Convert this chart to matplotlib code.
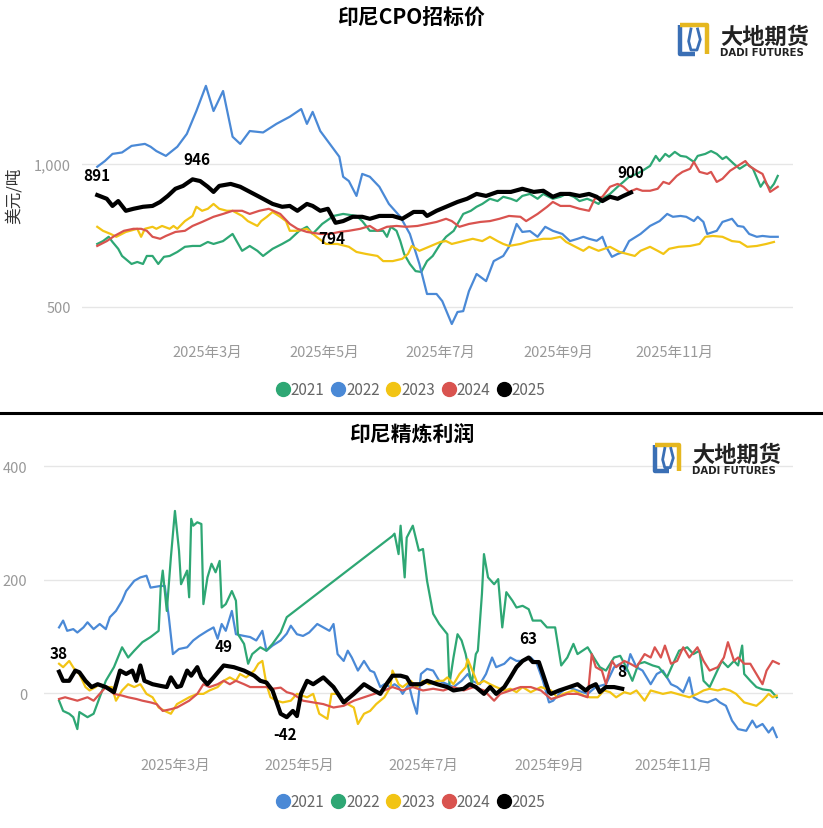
import matplotlib
matplotlib.use('Agg')
import matplotlib.pyplot as plt
from matplotlib.lines import Line2D

plt.rcParams['font.family'] = ['Noto Sans CJK SC', 'DejaVu Sans']

# ---- data: (day of year, value) ----
years = ['2021', '2022', '2023', '2024', '2025']
month_days = [60, 121, 182, 244, 305]
month_labels = ['2025年3月', '2025年5月', '2025年7月', '2025年9月', '2025年11月']

# 印尼CPO招标价 (美元/吨)
cpo_2021 = [(2, 720), (5, 730), (8, 745), (10, 727), (13, 703), (15, 678), (20, 650), (23, 657), (26, 650), (28, 678),
            (31, 678), (34, 650), (37, 675), (40, 678), (44, 692), (48, 710), (52, 713), (56, 713), (60, 727), (63, 720),
            (68, 730), (73, 755), (78, 696), (82, 713), (86, 696), (89, 678), (94, 703), (99, 720), (103, 735), (108, 766),
            (112, 780), (115, 755), (120, 790), (126, 818), (131, 825), (138, 818), (141, 800), (145, 766), (149, 766),
            (152, 766), (154, 745), (156, 780), (159, 766), (161, 730), (163, 685), (166, 650), (169, 625), (172, 622),
            (175, 660), (178, 678), (182, 720), (185, 745), (189, 766), (191, 790), (194, 825), (198, 836), (201, 850),
            (204, 860), (208, 878), (212, 870), (215, 885), (219, 878), (222, 870), (225, 888), (229, 895), (233, 878),
            (236, 895), (238, 888), (241, 878), (245, 885), (248, 895), (252, 885), (255, 870), (259, 878), (262, 870),
            (265, 860), (267, 878), (271, 895), (275, 920), (278, 937), (281, 955), (285, 965), (288, 976), (292, 993),
            (295, 1028), (297, 1010), (300, 1035), (302, 1025), (305, 1042), (308, 1028), (311, 1025), (315, 1007),
            (317, 1028), (321, 1035), (324, 1045), (327, 1035), (330, 1017), (332, 1025), (336, 1000), (339, 983),
            (343, 1000), (346, 983), (350, 920), (352, 940), (355, 913), (357, 930), (359, 958)]
cpo_2022 = [(2, 990), (6, 1010), (10, 1035), (15, 1040), (20, 1063), (27, 1070), (30, 1060), (33, 1045), (38, 1028),
            (44, 1060), (49, 1105), (54, 1185), (59, 1273), (63, 1185), (68, 1255), (73, 1095), (77, 1070), (82, 1115),
            (89, 1110), (96, 1140), (103, 1165), (109, 1192), (112, 1140), (115, 1182), (119, 1115), (124, 1070),
            (129, 1025), (131, 955), (134, 940), (138, 888), (141, 965), (145, 955), (150, 920), (155, 860), (161, 815),
            (166, 755), (171, 650), (175, 545), (180, 545), (183, 520), (188, 440), (191, 482), (194, 485), (197, 555),
            (201, 615), (206, 590), (210, 660), (215, 678), (218, 710), (222, 790), (225, 762), (229, 765), (233, 745),
            (237, 780), (241, 766), (246, 755), (250, 730), (254, 738), (257, 745), (260, 738), (264, 731), (267, 745),
            (269, 710), (272, 675), (275, 685), (278, 692), (281, 730), (287, 755), (292, 783), (297, 800), (301, 825),
            (304, 815), (308, 818), (311, 815), (315, 800), (317, 815), (320, 797), (322, 755), (327, 766), (330, 797),
            (335, 808), (338, 783), (341, 780), (344, 755), (348, 745), (351, 748), (355, 745), (359, 745)]
cpo_2023 = [(2, 780), (5, 766), (9, 755), (12, 745), (17, 762), (23, 773), (25, 745), (27, 773), (31, 780), (33, 773),
            (36, 783), (40, 773), (42, 783), (44, 773), (48, 800), (52, 818), (54, 850), (57, 836), (60, 843), (63, 860),
            (66, 843), (70, 836), (73, 836), (78, 818), (81, 800), (86, 783), (88, 800), (91, 815), (94, 832), (98, 815),
            (101, 800), (103, 766), (107, 766), (112, 773), (117, 745), (122, 720), (128, 720), (134, 710), (138, 692),
            (143, 685), (149, 678), (152, 660), (157, 660), (162, 668), (165, 685), (167, 713), (171, 696), (176, 710),
            (182, 727), (185, 730), (188, 720), (194, 730), (199, 738), (204, 730), (208, 745), (212, 730), (215, 720),
            (218, 713), (224, 720), (229, 730), (236, 738), (240, 738), (245, 745), (248, 727), (252, 713), (257, 696),
            (260, 710), (265, 696), (271, 710), (276, 692), (280, 685), (284, 678), (287, 696), (292, 710), (296, 696),
            (299, 685), (302, 703), (307, 710), (313, 713), (318, 720), (321, 745), (325, 748), (330, 745), (335, 730),
            (339, 727), (343, 710), (348, 713), (353, 720), (357, 727)]
cpo_2024 = [(2, 713), (7, 730), (11, 748), (16, 766), (21, 773), (25, 773), (28, 766), (31, 745), (35, 738), (38, 748),
            (43, 762), (48, 766), (52, 783), (57, 797), (63, 815), (68, 825), (73, 836), (78, 836), (82, 825), (87, 836),
            (92, 843), (98, 825), (103, 790), (107, 773), (112, 762), (116, 758), (119, 755), (124, 755), (129, 762),
            (134, 766), (140, 773), (145, 783), (149, 766), (154, 780), (159, 783), (164, 780), (170, 783), (175, 790),
            (180, 797), (185, 808), (188, 800), (192, 780), (197, 790), (203, 797), (208, 800), (213, 808), (218, 818),
            (224, 815), (227, 800), (233, 825), (238, 850), (241, 867), (245, 853), (250, 853), (255, 843), (260, 836),
            (263, 878), (267, 885), (271, 920), (275, 930), (278, 920), (281, 902), (285, 913), (288, 906), (292, 906),
            (296, 913), (299, 937), (302, 930), (306, 958), (309, 972), (313, 983), (315, 1007), (318, 972), (322, 965),
            (324, 972), (327, 937), (330, 948), (334, 976), (338, 993), (342, 1010), (344, 993), (348, 976), (351, 965),
            (355, 902), (359, 920)]
cpo_2025 = [(2, 891), (7, 878), (10, 853), (13, 870), (17, 836), (21, 843), (26, 850), (31, 853), (35, 867), (39, 888),
            (43, 913), (47, 923), (52, 946), (56, 940), (60, 920), (63, 902), (66, 923), (72, 930), (77, 920), (81, 906),
            (87, 885), (94, 860), (99, 850), (103, 853), (107, 836), (112, 860), (115, 853), (119, 836), (123, 843),
            (127, 794), (131, 800), (136, 815), (141, 815), (145, 808), (150, 818), (157, 818), (162, 808), (168, 832),
            (173, 832), (175, 818), (180, 836), (185, 850), (191, 867), (196, 878), (201, 895), (206, 888), (212, 902),
            (219, 902), (225, 913), (231, 902), (236, 906), (241, 885), (245, 895), (250, 895), (255, 888), (260, 895),
            (264, 885), (267, 870), (271, 885), (275, 878), (278, 888), (282, 900)]

# 印尼精炼利润
ref_2021 = [(3, 116), (5, 128), (7, 110), (10, 113), (12, 107), (15, 116), (17, 125), (20, 113), (23, 122), (26, 113),
            (28, 134), (31, 145), (34, 163), (36, 180), (40, 198), (43, 204), (46, 207), (48, 186), (53, 189), (55, 189),
            (57, 134), (59, 69), (62, 78), (66, 81), (69, 93), (72, 101), (76, 110), (79, 116), (81, 96), (83, 122),
            (85, 110), (88, 145), (90, 104), (94, 101), (97, 99), (100, 93), (103, 110), (105, 75), (108, 84), (112, 93),
            (115, 105), (117, 119), (120, 104), (123, 101), (126, 107), (130, 122), (133, 116), (136, 110), (138, 122),
            (140, 69), (143, 57), (145, 75), (147, 63), (150, 40), (153, 57), (156, 40), (158, 37), (161, 11), (163, 16),
            (166, 11), (168, 16), (170, 11), (172, -1), (175, 16), (177, -13), (179, -36), (181, 34), (184, 43),
            (187, 40), (190, 22), (194, 16), (197, 11), (201, 22), (204, 34), (206, 22), (210, 16), (213, 34), (216, 63),
            (218, 46), (222, 52), (225, 63), (228, 57), (231, 57), (235, 63), (238, 52), (241, 22), (244, -16),
            (246, -13), (249, -1), (253, 11), (258, 5), (263, -1), (267, 11), (272, 16), (276, 46), (279, 52), (282, 40),
            (284, 69), (287, 46), (290, 40), (294, 16), (297, 34), (300, 40), (304, 16), (307, 11), (310, 2), (313, 28),
            (315, -7), (318, -13), (322, -16), (326, -10), (328, -16), (331, -22), (334, -48), (337, -63), (341, -66),
            (344, -48), (346, -60), (349, -54), (352, -69), (354, -60), (356, -77)]
ref_2022 = [(3, -13), (5, -31), (8, -36), (10, -42), (12, -63), (13, -33), (17, -42), (20, -36), (23, -7), (26, 22),
            (30, 46), (34, 81), (37, 63), (40, 75), (44, 90), (48, 99), (52, 110), (53, 186), (54, 216), (56, 145),
            (58, 239), (60, 321), (62, 251), (63, 192), (66, 216), (67, 169), (68, 307), (69, 295), (71, 301), (73, 298),
            (74, 157), (76, 204), (78, 228), (80, 213), (82, 233), (83, 151), (85, 157), (88, 180), (90, 163), (91, 104),
            (94, 87), (96, 52), (98, 69), (102, 81), (105, 75), (108, 87), (112, 107), (115, 134), (167, 277), (168, 281),
            (170, 245), (171, 295), (173, 204), (174, 274), (177, 295), (180, 251), (182, 254), (184, 198), (187, 140),
            (190, 122), (194, 104), (195, 16), (197, 63), (199, 104), (201, 93), (203, 69), (206, 16), (208, 69),
            (209, 75), (211, 175), (212, 245), (214, 204), (217, 192), (219, 201), (221, 116), (223, 178), (226, 163),
            (228, 151), (231, 154), (234, 148), (236, 128), (240, 128), (243, 116), (247, 116), (250, 49), (253, 63),
            (256, 87), (258, 69), (263, 81), (266, 63), (269, 46), (272, 40), (276, 63), (279, 66), (282, 46), (285, 22),
            (288, 52), (291, 55), (295, 49), (298, 46), (302, 28), (305, 52), (308, 75), (312, 81), (315, 69), (318, 75),
            (320, 22), (323, 11), (326, 34), (329, 57), (332, 46), (335, 57), (337, 49), (339, 84), (340, 34), (343, 22),
            (346, 11), (349, 7), (353, 5), (356, -7)]
ref_2023 = [(3, 52), (5, 46), (8, 57), (11, 40), (13, 34), (16, 11), (18, 5), (21, 11), (23, 16), (26, 11), (29, 11),
            (31, -13), (34, 5), (37, 16), (40, 11), (43, 16), (46, -1), (49, -7), (52, -25), (55, -31), (58, -36),
            (61, -19), (64, -13), (67, -7), (71, -1), (74, -1), (77, 5), (81, 11), (84, 22), (87, 28), (90, 22), (92, 34),
            (95, 28), (99, 40), (101, 52), (103, 57), (105, 16), (107, -7), (110, -13), (113, -16), (117, -13), (120, -1),
            (125, -7), (128, -1), (131, -36), (135, -45), (137, -1), (140, -1), (142, -13), (145, -19), (148, -25),
            (150, -54), (153, -36), (156, -31), (159, -19), (163, -7), (166, 11), (167, 40), (170, 16), (172, 11),
            (176, 22), (179, 11), (182, 22), (185, 16), (189, 22), (192, 22), (194, 28), (197, 16), (200, 34), (203, 46),
            (204, 60), (207, 34), (209, 16), (212, 22), (215, 16), (218, 11), (222, 5), (225, 8), (228, 2), (231, 11),
            (235, 2), (240, 11), (245, 5), (248, -7), (251, -1), (256, 5), (261, -4), (264, -7), (268, -7), (271, 5),
            (274, 2), (277, -7), (281, 2), (284, -1), (287, 5), (291, -13), (294, 5), (297, 2), (300, -1), (304, 2),
            (307, -1), (310, -4), (313, -7), (317, -1), (320, 5), (323, 8), (327, 5), (330, 8), (333, 5), (336, -1),
            (340, -16), (343, -19), (346, -22), (349, -13), (352, -1), (354, -7), (356, -4)]
ref_2024 = [(3, -10), (6, -7), (9, -10), (12, -13), (17, -7), (20, -13), (23, -1), (26, 11), (30, -1), (34, -4),
            (37, -7), (41, -10), (44, -13), (48, -16), (51, -19), (54, -31), (58, -28), (61, -25), (64, -19), (67, -13),
            (71, -1), (74, 16), (77, 11), (81, 16), (84, 22), (87, 16), (90, 22), (94, 16), (97, 11), (102, 11),
            (105, 11), (108, 8), (112, 10), (115, 2), (118, -1), (123, -13), (128, -16), (133, -19), (138, -25),
            (143, -22), (148, -13), (153, -7), (158, -1), (163, 5), (167, 11), (172, 5), (177, 11), (182, 5), (187, 8),
            (192, 5), (197, 11), (202, 5), (207, 11), (212, 5), (217, -13), (220, -1), (225, 5), (230, 11), (235, 11),
            (240, 5), (245, -10), (248, -7), (253, -1), (258, -1), (263, -7), (265, 69), (267, 46), (270, 40), (272, 16),
            (275, 57), (277, 46), (281, 57), (284, 52), (287, 46), (291, 69), (294, 63), (296, 81), (299, 63), (301, 84),
            (304, 52), (307, 57), (310, 81), (313, 63), (317, 81), (320, 57), (323, 40), (327, 46), (330, 63), (332, 90),
            (335, 57), (337, 63), (340, 52), (343, 52), (346, 34), (349, 16), (351, 40), (354, 57), (357, 52)]
ref_2025 = [(3, 38), (5, 22), (8, 22), (11, 40), (13, 37), (16, 22), (19, 11), (22, 16), (26, 11), (30, 2), (33, 40),
            (36, 34), (39, 40), (41, 22), (43, 49), (45, 22), (49, 16), (53, 13), (56, 11), (58, 28), (61, 11), (63, 13),
            (66, 40), (68, 31), (71, 46), (73, 28), (76, 16), (79, 28), (84, 49), (89, 46), (94, 40), (99, 31), (102, 22),
            (105, 19), (108, 5), (112, -36), (115, -42), (118, -31), (120, -40), (122, -1), (125, 22), (128, 16),
            (133, 28), (138, 11), (143, -16), (148, -1), (153, 16), (158, 5), (161, -1), (164, 16), (167, 31), (171, 31),
            (174, 28), (176, 16), (181, 16), (184, 22), (189, 16), (194, 11), (197, 5), (202, 8), (205, 16), (208, 11),
            (212, -1), (215, 11), (218, -1), (222, 11), (225, 28), (228, 46), (231, 57), (234, 63), (236, 55), (239, 55),
            (241, 34), (244, 2), (245, -1), (249, 5), (254, 11), (258, 16), (262, 5), (264, 11), (267, 16), (269, 2),
            (272, 11), (276, 11), (280, 8)]

GREEN, BLUE, YELLOW, RED, BLACK = '#2ea774', '#4a89d6', '#f2c414', '#d9534f', '#000000'
W, H = 823, 829


def px_box(l, t, r, b):
    return [l / W, 1 - b / H, (r - l) / W, (b - t) / H]


def draw_panel(ax, series, colors, ylim, yticks, yticklabels, xlim, ypad):
    for data, c in zip(series, colors):
        d = [p[0] for p in data]
        v = [p[1] for p in data]
        lw = 3.0 if c == BLACK else 1.6
        ax.plot(d, v, color=c, lw=lw, solid_joinstyle='round', zorder=3 if c == BLACK else 2)
    ax.set_xlim(*xlim)
    ax.set_ylim(*ylim)
    ax.set_xticks(month_days)
    ax.set_xticklabels(month_labels)
    ax.set_yticks(yticks)
    ax.set_yticklabels(yticklabels)
    for s in ax.spines.values():
        s.set_visible(False)
    ax.tick_params(length=0, colors='#999999', labelsize=10.5)
    ax.tick_params(axis='y', pad=ypad)
    ax.tick_params(axis='x', pad=8)
    ax.yaxis.grid(True, color='#e6e6e6', lw=1)
    ax.set_axisbelow(True)


def label(ax, text, d, v, dx, dy, va):
    ax.annotate(text, xy=(d, v), xytext=(dx, dy), textcoords='offset points', ha='center', va=va,
                fontsize=11, fontweight='bold', color='black', zorder=5)


def draw_logo(fig, left, top, size):
    iax = fig.add_axes(px_box(left, top, left + size * 0.95, top + size))
    iax.set_xlim(0, 1)
    iax.set_ylim(0, 1)
    iax.axis('off')
    iax.plot([0.1, 0.1, 0.55], [0.92, 0.08, 0.08], color='#3a6fb5', lw=3.2, solid_capstyle='butt')
    iax.plot([0.1, 0.9, 0.9], [0.92, 0.92, 0.08], color='#e5b720', lw=3.2, solid_capstyle='butt')
    iax.plot([0.42, 0.35, 0.42, 0.6, 0.7, 0.62], [0.8, 0.45, 0.2, 0.2, 0.5, 0.8], color='#3a6fb5', lw=2)
    fig.text((left + size + 8) / W, 1 - (top + size * 0.4) / H, '大地期货', fontsize=16, fontweight='bold',
             color='#222222', va='center', ha='left')
    fig.text((left + size + 8) / W, 1 - (top + size * 0.87) / H, 'DADI FUTURES', fontsize=7.3,
             fontweight='bold', color='#222222', va='center', ha='left', family='DejaVu Sans')


def draw_legend(fig, colors, y):
    handles = [Line2D([], [], marker='o', linestyle='', markersize=10, color=c) for c in colors]
    fig.legend(handles, years, loc='center', bbox_to_anchor=(0.5, 1 - y / H), ncol=5, frameon=False,
               handlelength=0.7, handletextpad=0.15, columnspacing=0.55, fontsize=11, labelcolor='#666666')


fig = plt.figure(figsize=(W / 100, H / 100), dpi=100)

# top panel
ax1 = fig.add_axes(px_box(82, 80, 793, 335))
top_colors = [GREEN, BLUE, YELLOW, RED, BLACK]
draw_panel(ax1, [cpo_2021, cpo_2022, cpo_2023, cpo_2024, cpo_2025], top_colors,
           (405, 1297), [500, 1000], ['500', '1,000'], (-6, 367), 8)
label(ax1, '891', 2, 891, 0, 9, 'bottom')
label(ax1, '946', 52, 946, 3, 9, 'bottom')
label(ax1, '794', 127, 794, -3, -5, 'top')
label(ax1, '900', 282, 900, 0, 9, 'bottom')
fig.text(0.5, 1 - 18 / H, '印尼CPO招标价', ha='center', va='center', fontsize=15, fontweight='bold')
fig.text(14 / W, 1 - 196 / H, '美元/吨', rotation=90, ha='center', va='center', fontsize=12, color='#333333')
draw_logo(fig, 677, 23, 35)
draw_legend(fig, top_colors, 391)

fig.add_artist(Line2D([0, 1], [1 - 414 / H] * 2, color='black', lw=2.2, transform=fig.transFigure))

# bottom panel
ax2 = fig.add_axes(px_box(44, 460, 793, 748))
bot_colors = [BLUE, GREEN, YELLOW, RED, BLACK]
draw_panel(ax2, [ref_2021, ref_2022, ref_2023, ref_2024, ref_2025], bot_colors,
           (-94.5, 412.4), [0, 200, 400], ['0', '200', '400'], (-4.4, 364), 12)
label(ax2, '38', 3, 38, 0, 8, 'bottom')
label(ax2, '49', 84, 49, 0, 8, 'bottom')
label(ax2, '-42', 115, -42, -1, -6, 'top')
label(ax2, '63', 234, 63, 0, 8, 'bottom')
label(ax2, '8', 280, 8, 0, 7, 'bottom')
fig.text(0.5, 1 - 434 / H, '印尼精炼利润', ha='center', va='center', fontsize=15, fontweight='bold')
draw_logo(fig, 652, 443, 32)
draw_legend(fig, bot_colors, 803)

fig.savefig('out.png', dpi=100, facecolor='white')
